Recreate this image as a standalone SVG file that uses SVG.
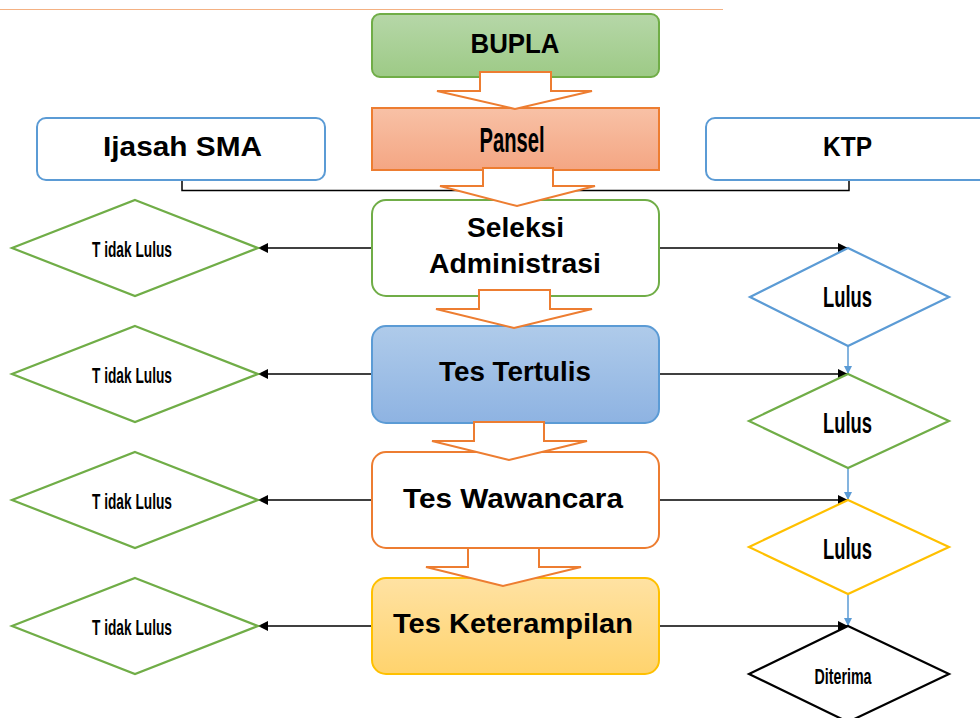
<svg xmlns="http://www.w3.org/2000/svg" width="980" height="718" viewBox="0 0 980 718">
<style>
.t{font-family:"Liberation Sans",Arial,sans-serif;font-weight:bold;fill:#000;text-anchor:middle}
.n{font-family:"Liberation Sans",Arial,sans-serif;font-weight:bold;fill:#000;text-anchor:middle}
.ln{fill:none;stroke:#000;stroke-width:1.5}
.bl{fill:none;stroke:#5b9bd5;stroke-width:1.5}
.blk{fill:#fff;stroke:#ed7d31;stroke-width:2;stroke-linejoin:miter}
.box{stroke-width:2}
.dm{fill:#fff;stroke-width:2.2}
</style>
<defs>
<linearGradient id="gG" x1="0" y1="0" x2="0" y2="1"><stop offset="0" stop-color="#b6d7a8"/><stop offset="1" stop-color="#9dca86"/></linearGradient>
<linearGradient id="gO" x1="0" y1="0" x2="0" y2="1"><stop offset="0" stop-color="#f8c1a6"/><stop offset="1" stop-color="#f4a683"/></linearGradient>
<linearGradient id="gB" x1="0" y1="0" x2="0" y2="1"><stop offset="0" stop-color="#afcbea"/><stop offset="1" stop-color="#8eb3e2"/></linearGradient>
<linearGradient id="gY" x1="0" y1="0" x2="0" y2="1"><stop offset="0" stop-color="#ffe2a3"/><stop offset="1" stop-color="#ffd36d"/></linearGradient>
<marker id="ah" markerUnits="userSpaceOnUse" markerWidth="10" markerHeight="10" viewBox="0 0 10 10" refX="10" refY="5" orient="auto"><path d="M0,0 L10,5 L0,10 z" fill="#000"/></marker>
<marker id="ahb" markerUnits="userSpaceOnUse" markerWidth="8" markerHeight="8" viewBox="0 0 10 10" refX="10" refY="5" orient="auto"><path d="M0,0 L10,5 L0,10 z" fill="#5b9bd5"/></marker>
</defs>
<rect x="0" y="0" width="980" height="718" fill="#fff"/>
<line x1="0" y1="9.5" x2="723" y2="9.5" stroke="#f4b183" stroke-width="1"/>

<g id="connectors">
<path class="ln" d="M182,180 V190.5 H849 V180"/>
<path class="ln" d="M372,248 H258" marker-end="url(#ah)"/>
<path class="ln" d="M372,374 H258" marker-end="url(#ah)"/>
<path class="ln" d="M372,500 H258" marker-end="url(#ah)"/>
<path class="ln" d="M372,626 H258" marker-end="url(#ah)"/>
<path class="ln" d="M659,248 H848" marker-end="url(#ah)"/>
<path class="ln" d="M659,374 H848" marker-end="url(#ah)"/>
<path class="ln" d="M659,500 H848" marker-end="url(#ah)"/>
<path class="ln" d="M659,626 H848" marker-end="url(#ah)"/>
<path class="bl" d="M848,346 V374" marker-end="url(#ahb)"/>
<path class="bl" d="M848,468 V500" marker-end="url(#ahb)"/>
<path class="bl" d="M848,594 V626" marker-end="url(#ahb)"/>
</g>

<g id="bupla"><rect class="box" x="372" y="14" width="287" height="63" rx="8" fill="url(#gG)" stroke="#70ad47"/>
<text class="t" x="515" y="53" font-size="28" textLength="89" lengthAdjust="spacingAndGlyphs">BUPLA</text></g>
<g id="pansel"><rect class="box" x="372" y="108" width="287" height="62" fill="url(#gO)" stroke="#ed7d31"/>
<text class="n" x="512" y="152" font-size="35" textLength="65" lengthAdjust="spacingAndGlyphs">Pansel</text></g>
<g id="ijasah"><rect class="box" x="37" y="118" width="288" height="62" rx="9" fill="#fff" stroke="#5b9bd5"/>
<text class="t" x="182.5" y="156" font-size="27" textLength="159" lengthAdjust="spacingAndGlyphs">Ijasah SMA</text></g>
<g id="ktp"><rect class="box" x="706" y="118" width="292" height="62" rx="9" fill="#fff" stroke="#5b9bd5"/>
<text class="t" x="847.5" y="156" font-size="27" textLength="49" lengthAdjust="spacingAndGlyphs">KTP</text></g>
<g id="seleksi"><rect class="box" x="372" y="200" width="287" height="96" rx="14" fill="#fff" stroke="#70ad47"/>
<text class="t" x="515.5" y="237" font-size="27" textLength="97" lengthAdjust="spacingAndGlyphs">Seleksi</text>
<text class="t" x="515" y="273" font-size="27" textLength="172" lengthAdjust="spacingAndGlyphs">Administrasi</text></g>
<g id="tertulis"><rect class="box" x="372" y="326" width="287" height="97" rx="14" fill="url(#gB)" stroke="#5b9bd5"/>
<text class="t" x="515" y="381" font-size="28" textLength="152" lengthAdjust="spacingAndGlyphs">Tes Tertulis</text></g>
<g id="wawancara"><rect class="box" x="372" y="452" width="287" height="96" rx="14" fill="#fff" stroke="#ed7d31"/>
<text class="t" x="513" y="508" font-size="28" textLength="220" lengthAdjust="spacingAndGlyphs">Tes Wawancara</text></g>
<g id="keterampilan"><rect class="box" x="372" y="578" width="287" height="96" rx="14" fill="url(#gY)" stroke="#ffc000"/>
<text class="t" x="513" y="633" font-size="28" textLength="240" lengthAdjust="spacingAndGlyphs">Tes Keterampilan</text></g>

<g id="tidak1"><polygon class="dm" points="135,200 258,248 135,296 12,248" stroke="#70ad47"/>
<text class="n" x="132" y="257" font-size="22" textLength="80" lengthAdjust="spacingAndGlyphs">T idak Lulus</text></g>
<g id="tidak2"><polygon class="dm" points="135,326 258,374 135,422 12,374" stroke="#70ad47"/>
<text class="n" x="132" y="383" font-size="22" textLength="80" lengthAdjust="spacingAndGlyphs">T idak Lulus</text></g>
<g id="tidak3"><polygon class="dm" points="135,452 258,500 135,548 12,500" stroke="#70ad47"/>
<text class="n" x="132" y="509" font-size="22" textLength="80" lengthAdjust="spacingAndGlyphs">T idak Lulus</text></g>
<g id="tidak4"><polygon class="dm" points="135,578 258,626 135,674 12,626" stroke="#70ad47"/>
<text class="n" x="132" y="635" font-size="22" textLength="80" lengthAdjust="spacingAndGlyphs">T idak Lulus</text></g>

<g id="lulus1"><polygon class="dm" points="848,248 949,297 848,346 750,297" stroke="#5b9bd5"/>
<text class="n" x="847.5" y="307" font-size="29" textLength="49" lengthAdjust="spacingAndGlyphs">Lulus</text></g>
<g id="lulus2"><polygon class="dm" points="848,374 949,421 848,468 749,421" stroke="#70ad47"/>
<text class="n" x="847.5" y="433" font-size="29" textLength="49" lengthAdjust="spacingAndGlyphs">Lulus</text></g>
<g id="lulus3"><polygon class="dm" points="848,500 949,547 848,594 749,547" stroke="#ffc000"/>
<text class="n" x="847.5" y="559" font-size="29" textLength="49" lengthAdjust="spacingAndGlyphs">Lulus</text></g>
<g id="diterima"><polygon class="dm" points="848,626 949,674 848,722 749,674" stroke="#000"/>
<text class="n" x="843" y="684" font-size="22" textLength="57" lengthAdjust="spacingAndGlyphs">Diterima</text></g>

<g id="flow-arrows">
<polygon class="blk" points="480,72 551,72 551,91 592,91 515,109 437,91 480,91"/>
<polygon class="blk" points="483,168 553,168 553,186 595,186 517,206 440,186 483,186"/>
<polygon class="blk" points="479,290 550,290 550,309 592,309 514,328 436,309 479,309"/>
<polygon class="blk" points="474,422 544,422 544,441 587,441 509,460 432,441 474,441"/>
<polygon class="blk" points="468,548 539,548 539,567 581,567 503,586 426,567 468,567"/>
</g>
</svg>
